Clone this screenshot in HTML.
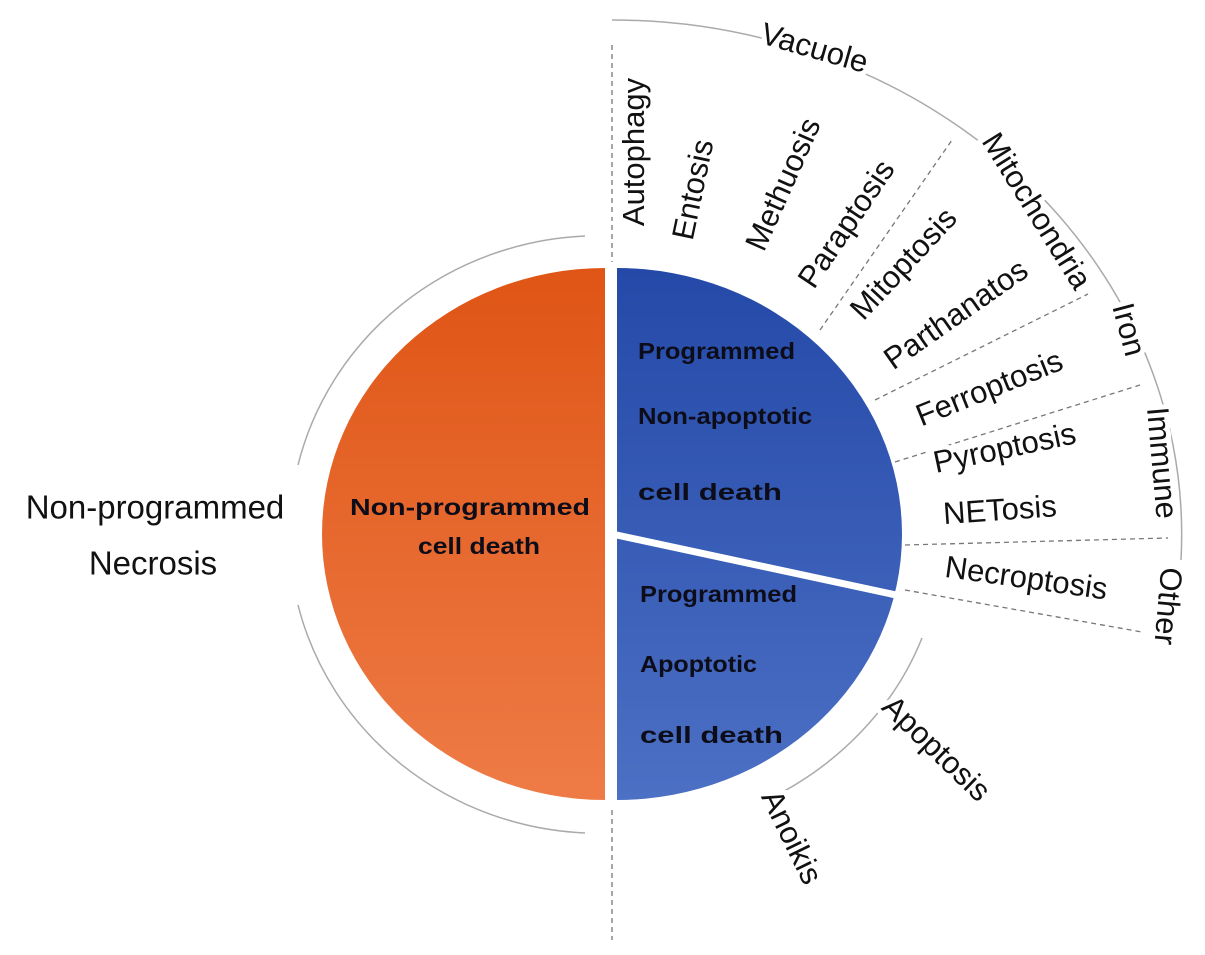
<!DOCTYPE html>
<html><head><meta charset="utf-8"><style>
html,body{margin:0;padding:0;background:#fff;}
svg{display:block;}
text{font-family:"Liberation Sans",sans-serif;}
.l{font-size:31px;fill:#111;text-anchor:middle;dominant-baseline:middle;stroke:#fff;stroke-width:10px;paint-order:stroke;}
.b{font-family:"Liberation Sans",sans-serif;font-weight:bold;font-size:23px;fill:#0d0d1a;}
</style></head><body>
<svg width="1205" height="955" viewBox="0 0 1205 955" xmlns="http://www.w3.org/2000/svg">
<defs>
<linearGradient id="og" x1="0" y1="0" x2="0" y2="1"><stop offset="0" stop-color="#df5515"/><stop offset="1" stop-color="#ee7b46"/></linearGradient>
<linearGradient id="bg" x1="0" y1="0" x2="0" y2="1"><stop offset="0" stop-color="#2449a8"/><stop offset="1" stop-color="#4c70c4"/></linearGradient>
</defs>
<g fill="none" stroke="#aaa" stroke-width="1.5">
<path d="M585,236 A310,300 0 0 0 298,465"/>
<path d="M298,605 A310,300 0 0 0 585,833"/>
<path d="M612,20 A570,515 0 0 1 1181,560"/>
<path d="M922,638 A330,300 0 0 1 767,800"/>
</g>
<g fill="none" stroke="#777" stroke-width="1.3" stroke-dasharray="5,4">
<line x1="612" y1="45" x2="612" y2="262"/>
<line x1="612" y1="810" x2="612" y2="940"/>
<line x1="820" y1="330" x2="952" y2="140"/>
<line x1="875" y1="400" x2="1088" y2="294"/>
<line x1="895" y1="462" x2="1140" y2="385"/>
<line x1="905" y1="545" x2="1168" y2="538"/>
<line x1="905" y1="590" x2="1142" y2="632"/>
</g>
<path d="M605,268 A283,266 0 0 0 605,800 Z" fill="url(#og)"/>
<path d="M617,268 A285,266 0 0 1 617,800 Z" fill="url(#bg)"/>
<line x1="612" y1="534" x2="910" y2="598" stroke="#fff" stroke-width="7"/>
<text class="b" x="350" y="515" textLength="240" lengthAdjust="spacingAndGlyphs">Non-programmed</text>
<text class="b" x="418" y="554" textLength="122" lengthAdjust="spacingAndGlyphs">cell death</text>
<text class="b" x="638" y="359" textLength="157" lengthAdjust="spacingAndGlyphs">Programmed</text>
<text class="b" x="638" y="424" textLength="174" lengthAdjust="spacingAndGlyphs">Non-apoptotic</text>
<text class="b" x="638" y="500" textLength="144" lengthAdjust="spacingAndGlyphs">cell death</text>
<text class="b" x="640" y="602" textLength="157" lengthAdjust="spacingAndGlyphs">Programmed</text>
<text class="b" x="640" y="672" textLength="117" lengthAdjust="spacingAndGlyphs">Apoptotic</text>
<text class="b" x="640" y="743" textLength="143" lengthAdjust="spacingAndGlyphs">cell death</text>
<text class="l" x="155" y="510" style="stroke-width:0;font-size:33px">Non-programmed</text>
<text class="l" x="153" y="566" style="stroke-width:0;font-size:33px">Necrosis</text>
<text class="l" transform="translate(814,50) rotate(16)">Vacuole</text>
<text class="l" transform="translate(1035,212) rotate(58)">Mitochondria</text>
<text class="l" transform="translate(1127,330) rotate(75)">Iron</text>
<text class="l" transform="translate(1160,463) rotate(85)">Immune</text>
<text class="l" transform="translate(1166,606) rotate(95)">Other</text>
<text class="l" transform="translate(636,152) rotate(-90)">Autophagy</text>
<text class="l" transform="translate(695,190) rotate(-78)">Entosis</text>
<text class="l" transform="translate(785,185) rotate(-66)">Methuosis</text>
<text class="l" transform="translate(848,225) rotate(-56)">Paraptosis</text>
<text class="l" transform="translate(905,265) rotate(-47)">Mitoptosis</text>
<text class="l" transform="translate(957,316) rotate(-35)">Parthanatos</text>
<text class="l" transform="translate(990,390) rotate(-22)">Ferroptosis</text>
<text class="l" transform="translate(1005,450) rotate(-12)">Pyroptosis</text>
<text class="l" transform="translate(1000,512) rotate(-4)">NETosis</text>
<text class="l" transform="translate(1026,580) rotate(8)">Necroptosis</text>
<text class="l" transform="translate(935,750) rotate(44)">Apoptosis</text>
<text class="l" transform="translate(790,838) rotate(64)">Anoikis</text>
</svg>
</body></html>
